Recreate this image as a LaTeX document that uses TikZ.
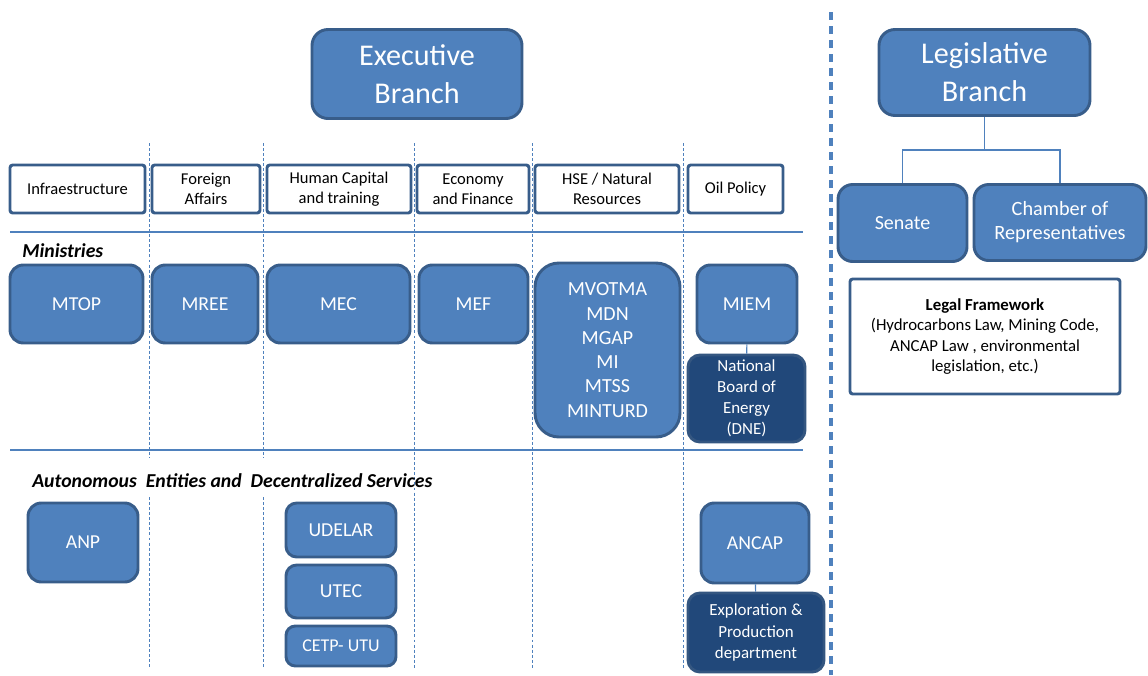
\documentclass[tikz,border=0pt]{standalone}
\usepackage{fontspec}
\setmainfont{Carlito}
\definecolor{bfill}{RGB}{79,129,189}
\definecolor{bedge}{RGB}{56,93,138}
\definecolor{dfill}{RGB}{33,72,122}
\definecolor{dedge}{RGB}{52,86,128}
\tikzset{
  sz/.style 2 args={minimum width=#1*0.75pt, minimum height=#2*0.75pt},
  bluebox/.style={draw=bedge, fill=bfill, line width=2.2pt, rounded corners=10pt,
    text=white, align=center, inner sep=0pt, font=\fontsize{14.8}{18}\selectfont},
  darkbox/.style={draw=dedge, fill=dfill, line width=2.2pt, rounded corners=9pt,
    text=white, align=center, inner sep=0pt, font=\fontsize{12.7}{15.8}\selectfont},
  headbox/.style={draw=bedge, fill=white, line width=2.2pt, rounded corners=2pt,
    text=black, align=center, inner sep=0pt, font=\fontsize{12.4}{14.8}\selectfont},
  bigbox/.style={bluebox, rounded corners=12pt, font=\fontsize{22.6}{28.5}\selectfont},
  sectlabel/.style={anchor=west, inner sep=0pt, font=\fontsize{14.8}{16}\selectfont\bfseries\itshape},
  sepline/.style={draw=bfill, line width=1.6pt},
  colline/.style={draw=bfill, line width=0.7pt, dash pattern=on 2.2pt off 1.6pt},
  bigdash/.style={draw=bfill, line width=2.3pt, dash pattern=on 6pt off 4.5pt},
  conn/.style={draw=bfill, line width=0.8pt}
}
\begin{document}
\begin{tikzpicture}[x=0.75pt,y=-0.75pt]
\useasboundingbox (0,0) rectangle (1148,675);

% column separators
\foreach \xx in {149,263}{
  \draw[colline] (\xx,143) -- (\xx,458);
  \draw[colline] (\xx,497) -- (\xx,668);
}
\foreach \xx in {414,532,683}{
  \draw[colline] (\xx,143) -- (\xx,668);
}
% horizontal separators
\draw[sepline] (10,232) -- (803,232);
\draw[sepline] (10,450) -- (803,450);
% big dashed separator
\draw[bigdash] (831,12) -- (831,675);

% Executive
\node[bigbox, sz={210}{89}] (exec) at (417,74) {Executive\\Branch};
% Legislative
\node[bigbox, sz={211}{86}] (legis) at (984.5,72.5) {Legislative\\Branch};
\node[bluebox, rounded corners=11pt, font=\fontsize{15}{18}\selectfont, sz={129}{77}] (senate) at (902.5,223) {Senate};
\node[bluebox, rounded corners=11pt, font=\fontsize{15.2}{18}\selectfont, sz={172}{76}] (chamber) at (1060,222.5) {Chamber of\\Representatives};
\coordinate (lj) at (984.5,150);
\draw[conn] (legis.south) -- (lj);
\draw[conn] (senate.north) |- (lj) -| (chamber.north);
\node[headbox, sz={270}{115}, font=\fontsize{12.6}{15.4}\selectfont] (legal) at (985,336.5)
  {\textbf{Legal Framework}\\(Hydrocarbons Law, Mining Code,\\ANCAP Law , environmental\\legislation, etc.)};

% headers
\node[headbox, sz={135}{48}] (h1) at (77.5,189) {Infraestructure};
\node[headbox, sz={108}{48}] (h2) at (206,189) {Foreign\\Affairs};
\node[headbox, sz={144}{48}] (h3) at (339,189) {Human Capital\\and training};
\node[headbox, sz={112}{48}] (h4) at (473,189) {Economy\\and Finance};
\node[headbox, sz={144}{48}] (h5) at (607,189) {HSE / Natural\\Resources};
\node[headbox, sz={95}{48}] (h6) at (735.5,189) {Oil Policy};

\node[sectlabel] (minlab) at (22,251) {Ministries};
\node[sectlabel] (autlab) at (32,481) {Autonomous\ \ Entities and\ \ Decentralized Services};

% ministries
\node[bluebox, sz={133}{78}] (mtop) at (76.5,304) {MTOP};
\node[bluebox, sz={106}{78}] (mree) at (205,304) {MREE};
\node[bluebox, sz={143}{78}] (mec) at (338.5,304) {MEC};
\node[bluebox, sz={109}{78}] (mef) at (473.5,304) {MEF};
\node[bluebox, rounded corners=18pt, sz={145}{174}, font=\fontsize{15}{18.2}\selectfont] (mvotma) at (607.5,350)
  {MVOTMA\\MDN\\MGAP\\MI\\MTSS\\MINTURD};
\node[bluebox, sz={100}{78}] (miem) at (747,304) {MIEM};
\node[darkbox, sz={117}{87}] (dne) at (746.5,398.5) {National\\Board of\\Energy\\(DNE)};
\draw[conn] (miem) -- (dne);

% autonomous entities
\node[bluebox, sz={110}{79}] (anp) at (83,542.5) {ANP};
\node[bluebox, rounded corners=8pt, sz={110}{54}] (udelar) at (341,530) {UDELAR};
\node[bluebox, rounded corners=8pt, sz={110}{53}] (utec) at (341,591.5) {UTEC};
\node[bluebox, rounded corners=7pt, sz={110}{40}, font=\fontsize{13.5}{16}\selectfont] (cetp) at (341,646) {CETP- UTU};
\node[bluebox, sz={108}{80}] (ancap) at (755,543) {ANCAP};
\node[darkbox, sz={136}{79}] (expl) at (756,632.5) {Exploration \&\\Production\\department};
\draw[conn] (ancap) -- (expl);
\end{tikzpicture}
\end{document}
